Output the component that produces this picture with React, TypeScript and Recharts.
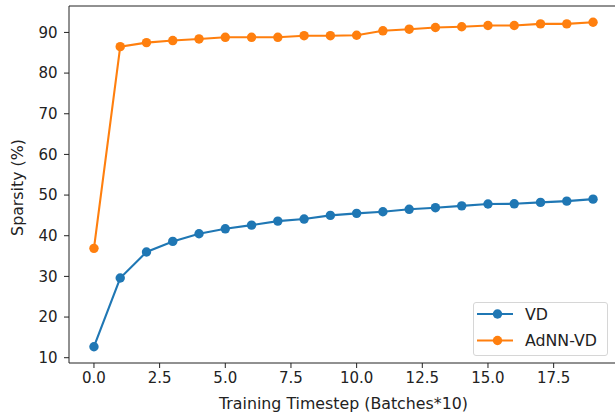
import React from 'react';
import { LineChart, Line, XAxis, YAxis, ReferenceLine, Label } from 'recharts';

const timesteps = [0, 1, 2, 3, 4, 5, 6, 7, 8, 9, 10, 11, 12, 13, 14, 15, 16, 17, 18, 19];
const vdValues = [12.7, 29.6, 36.0, 38.6, 40.5, 41.7, 42.6, 43.6, 44.1, 45.0, 45.5, 45.9, 46.5, 46.9, 47.35, 47.8, 47.85, 48.2, 48.5, 49.0];
const adnnValues = [36.9, 86.5, 87.5, 88.0, 88.4, 88.8, 88.8, 88.8, 89.2, 89.2, 89.3, 90.4, 90.8, 91.2, 91.4, 91.7, 91.7, 92.1, 92.1, 92.5];
const xTicks = [0, 2.5, 5, 7.5, 10, 12.5, 15, 17.5];
const yTicks = [10, 20, 30, 40, 50, 60, 70, 80, 90];
const xDomain = [-0.95, 19.95];
const yDomain = [8.7, 96.5];
const seriesNames = ['VD', 'AdNN-VD'];
const seriesColors = ['#1f77b4', '#ff7f0e'];

const data = timesteps.map((t, i) => ({ t, vd: vdValues[i], adnn: adnnValues[i] }));

const FONT = '"DejaVu Sans", sans-serif';
const TEXT = '#222';
const TICK_FS = 15;
const LABEL_FS = 15.8;
const DOT_R = 4.7;

const LegendBox = () => (
  <div
    style={{
      position: 'absolute',
      left: 473,
      top: 302,
      width: 135,
      height: 54,
      boxSizing: 'border-box',
      border: '1px solid #d6d6d6',
      borderRadius: 3,
      background: 'rgba(255,255,255,0.8)',
    }}
  >
    <svg width={133} height={52} style={{ display: 'block' }}>
      {seriesNames.map((n, i) => (
        <g key={n}>
          <line x1={3} x2={39} y1={11 + i * 26.5} y2={11 + i * 26.5} stroke={seriesColors[i]} strokeWidth={2.1} />
          <circle cx={23.5} cy={11 + i * 26.5} r={DOT_R} fill={seriesColors[i]} />
          <text x={51} y={11 + i * 26.5} dominantBaseline="central" fontFamily={FONT} fontSize={LABEL_FS} fill={TEXT}>
            {n}
          </text>
        </g>
      ))}
    </svg>
  </div>
);

export default function App() {
  return (
    <div style={{ position: 'absolute', left: 0, top: 0, width: 615, height: 417, overflow: 'hidden', background: '#fff' }}>
      <LineChart width={625} height={417} data={data} margin={{ top: 6, right: 7, bottom: 0, left: 0 }}>
        <XAxis
          dataKey="t"
          type="number"
          domain={xDomain}
          ticks={xTicks}
          tickFormatter={(v: number) => v.toFixed(1)}
          height={54}
          tickSize={5}
          tickMargin={4}
          stroke="#222"
          tick={{ fill: TEXT, fontFamily: FONT, fontSize: TICK_FS }}
          interval={0}
        >
          <Label value="Training Timestep (Batches*10)" position="insideBottom" offset={8} fill={TEXT} fontFamily={FONT} fontSize={LABEL_FS} />
        </XAxis>
        <YAxis
          type="number"
          domain={yDomain}
          ticks={yTicks}
          width={69}
          tickSize={5}
          tickMargin={6.5}
          stroke="#222"
          tick={{ fill: TEXT, fontFamily: FONT, fontSize: TICK_FS }}
          interval={0}
        >
          <Label
            content={(props: any) => {
              const vb = props.viewBox || {};
              const cy = vb.y + vb.height / 2 + 3;
              return (
                <text
                  x={23}
                  y={cy}
                  transform={`rotate(-90, 23, ${cy})`}
                  textAnchor="middle"
                  fontFamily={FONT}
                  fontSize={LABEL_FS}
                  fill={TEXT}
                >
                  Sparsity (%)
                </text>
              );
            }}
          />
        </YAxis>
        <ReferenceLine y={yDomain[1]} stroke="#222" strokeWidth={1} />
        <Line
          dataKey="vd"
          name={seriesNames[0]}
          stroke={seriesColors[0]}
          strokeWidth={2.1}
          dot={{ r: DOT_R, fill: seriesColors[0], stroke: seriesColors[0], strokeWidth: 0 }}
          isAnimationActive={false}
        />
        <Line
          dataKey="adnn"
          name={seriesNames[1]}
          stroke={seriesColors[1]}
          strokeWidth={2.1}
          dot={{ r: DOT_R, fill: seriesColors[1], stroke: seriesColors[1], strokeWidth: 0 }}
          isAnimationActive={false}
        />
      </LineChart>
      <LegendBox />
    </div>
  );
}
